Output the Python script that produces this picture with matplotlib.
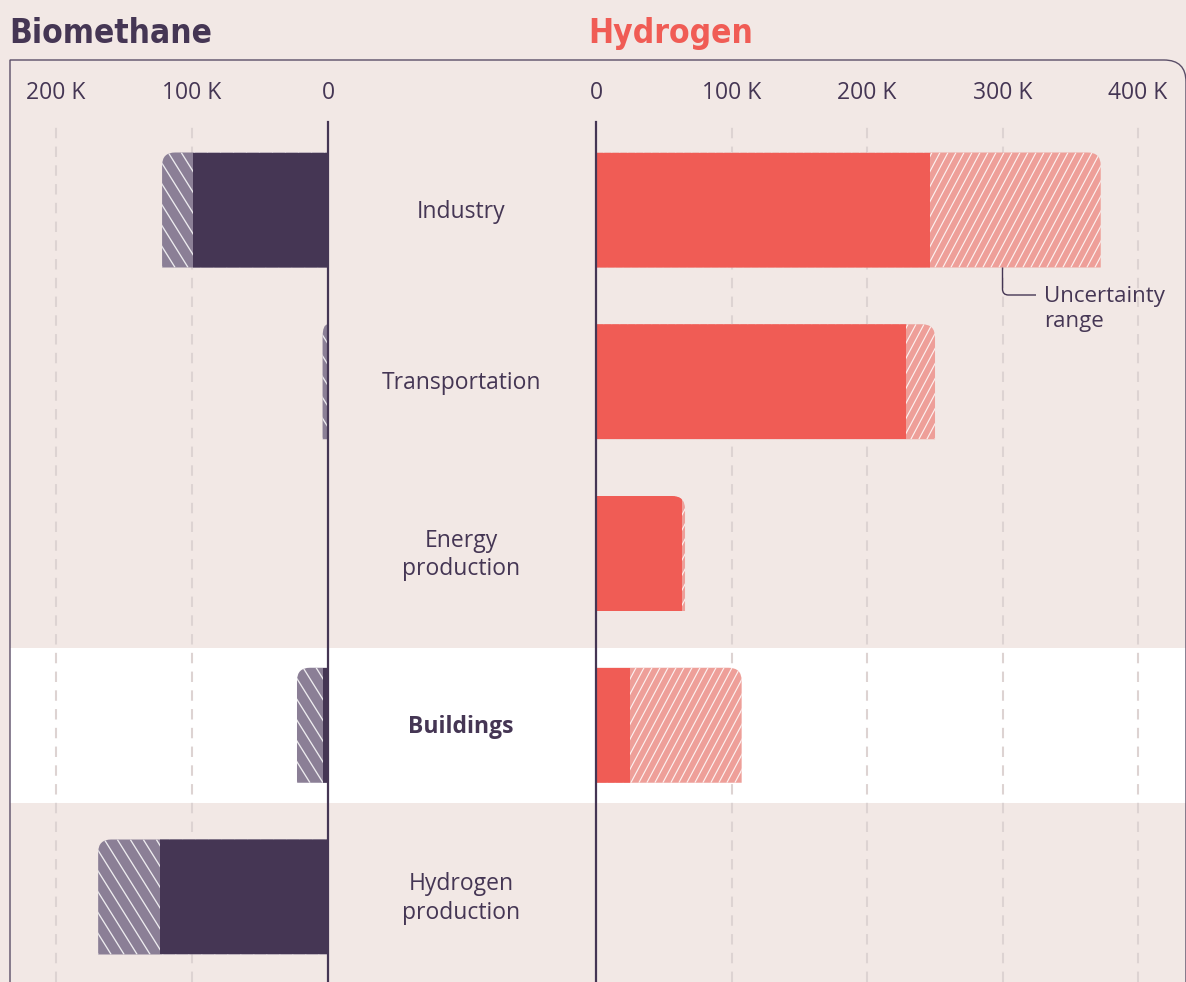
import matplotlib
matplotlib.use("Agg")
import matplotlib.pyplot as plt
import numpy as np
from matplotlib.path import Path
from matplotlib.patches import PathPatch, Rectangle
from matplotlib.collections import LineCollection
from matplotlib.transforms import IdentityTransform, Affine2D

# ---------------- data ----------------
categories = ["Industry", "Transportation", "Energy\nproduction", "Buildings", "Hydrogen\nproduction"]
bio_low = [99000, 0, 0, 3900, 123500]
bio_high = [122000, 4000, 0, 22800, 169000]
h2_low = [246500, 228800, 63200, 25100, 0]
h2_high = [372500, 250200, 65700, 107500, 0]
bio_ticks = [0, 100000, 200000]
bio_tick_labels = ["0", "100 K", "200 K"]
h2_ticks = [0, 100000, 200000, 300000, 400000]
h2_tick_labels = ["0", "100 K", "200 K", "300 K", "400 K"]
highlight = "Buildings"
title_left = "Biomethane"
title_right = "Hydrogen"
note_text = "Uncertainty\nrange"

# ---------------- style ----------------
BG = "#f2e8e5"
DARK = "#453654"
DARK_LIGHT = "#8b7f96"
RED = "#f05c55"
RED_LIGHT = "#ee9f99"
GRID = "#ddd3d2"
FRAME = "#5a4e68"
TXT_FONT = ["Open Sans", "DejaVu Sans"]
TITLE_FONT = ["DejaVu Sans"]

W, H = 1186, 982
fig = plt.figure(figsize=(W / 100, H / 100), dpi=100)
fig.patch.set_facecolor(BG)

def fx(px):
    return px / W

AX_TOP = 122
ROW0 = 210.0
ROWSTEP = 171.75
ylim = (4 + (H - (ROW0 + 4 * ROWSTEP)) / ROWSTEP, -(ROW0 - AX_TOP) / ROWSTEP)
BAR_H = 115 / ROWSTEP
n = len(categories)
ypos = np.arange(n)

# middle / background axes
mid = fig.add_axes([fx(10), 0, 1 - fx(10), (H - AX_TOP) / H])
mid.set_ylim(*ylim)
mid.set_xlim(0, 1)
mid.axis("off")
mid.patch.set_alpha(0)
hi = categories.index(highlight)
mid.axhspan(hi - 77.5 / ROWSTEP, hi + 77.5 / ROWSTEP, color="white", zorder=0, lw=0)
for i, c in enumerate(categories):
    mid.text((461 - 10) / (W - 10), i + 0.01, c, ha="center", va="center",
             fontsize=16.5, color=DARK, family=TXT_FONT,
             fontweight="bold" if c == highlight else "normal", linespacing=1.25)

axL = fig.add_axes([fx(10), 0, 318 / W, (H - AX_TOP) / H])
axR = fig.add_axes([fx(596), 0, 590 / W, (H - AX_TOP) / H])
axL.set_xlim(318 / 136 * 1e5, 0)
axR.set_xlim(0, 590 / 135.5 * 1e5)

for ax, ticks, labels in [(axL, bio_ticks, bio_tick_labels), (axR, h2_ticks, h2_tick_labels)]:
    ax.set_ylim(*ylim)
    ax.patch.set_alpha(0)
    for s in ax.spines.values():
        s.set_visible(False)
    ax.set_yticks([])
    ax.xaxis.tick_top()
    ax.set_xticks(ticks)
    ax.set_xticklabels(labels, family=TXT_FONT, fontsize=16.5, color=DARK)
    ax.tick_params(axis="x", length=0, pad=12.5)
    for t in ticks[1:]:
        ax.axvline(t, color=GRID, lw=1.5, ls=(0, (5, 4)), zorder=1)
    ax.axvline(0, color=DARK, lw=1.6, zorder=6, clip_on=False)

fig.canvas.draw()

def rounded_path(x1, yc, h, rx, ry):
    ytop = yc - h / 2
    ybot = yc + h / 2
    rx = min(rx, abs(x1))
    verts = [(0, ybot), (x1, ybot), (x1, ytop + ry), (x1, ytop), (x1 - rx, ytop), (0, ytop), (0, ybot)]
    codes = [Path.MOVETO, Path.LINETO, Path.LINETO, Path.CURVE3, Path.CURVE3, Path.LINETO, Path.CLOSEPOLY]
    return Path(verts, codes)

def draw_bars(ax, lows, highs, solid, light, px_per_unit, direction, spacing, angle, lw):
    rx = 13 / px_per_unit
    ry = 13 / ROWSTEP
    cot = 1 / np.tan(np.radians(angle))
    for y, lo, hi_ in zip(ypos, lows, highs):
        if hi_ <= 0:
            continue
        full = PathPatch(rounded_path(hi_, y, BAR_H, rx, ry), fc=light, ec="none", zorder=2)
        ax.add_patch(full)
        p0 = ax.transData.transform((0, y - BAR_H / 2))
        p1 = ax.transData.transform((hi_, y + BAR_H / 2))
        xmin, xmax = sorted([p0[0], p1[0]])
        ymin, ymax = sorted([p0[1], p1[1]])
        hh = ymax - ymin
        segs = []
        for x in np.arange(xmin - hh * cot - spacing, xmax + spacing, spacing):
            if direction == "/":
                segs.append([(x, ymin), (x + hh * cot, ymax)])
            else:
                segs.append([(x, ymax), (x + hh * cot, ymin)])
        lc = LineCollection(segs, colors=(1, 1, 1, 0.85), linewidths=lw,
                            transform=IdentityTransform(), zorder=3)
        lc.set_clip_path(full)
        ax.add_collection(lc, autolim=False)
        if lo > 0:
            r = Rectangle((0, y - BAR_H / 2), lo, BAR_H, fc=solid, ec="none", zorder=4)
            ax.add_patch(r)
            r.set_clip_path(full)

draw_bars(axL, bio_low, bio_high, DARK, DARK_LIGHT, 136 / 1e5, "\\", 13, 58, 0.95)
draw_bars(axR, h2_low, h2_high, RED, RED_LIGHT, 135.5 / 1e5, "/", 8, 62, 0.85)

# annotation for uncertainty range
xa = 300000
y_b = 0 + BAR_H / 2
y_c = (295 - ROW0) / ROWSTEP
x_e = (1036 - 596) / 135.5 * 1e5
rr_x = 6 / 135.5 * 1e5
rr_y = 6 / ROWSTEP
ann = Path([(xa, y_b), (xa, y_c - rr_y), (xa, y_c), (xa + rr_x, y_c), (x_e, y_c)],
           [Path.MOVETO, Path.LINETO, Path.CURVE3, Path.CURVE3, Path.LINETO])
axR.add_patch(PathPatch(ann, fc="none", ec=DARK, lw=1.0, zorder=5))
axR.text((1044 - 596) / 135.5 * 1e5, (309 - ROW0) / ROWSTEP, note_text, ha="left", va="center",
         fontsize=16, color=DARK, family=TXT_FONT, linespacing=1.25,
         transform=axR.transData)

# frame
pxT = Affine2D().scale(1 / W, -1 / H).translate(0, 1) + fig.transFigure
fr = Path([(10, H + 10), (10, 60), (1164, 60), (1186, 60), (1186, 82), (1186, H + 10)],
          [Path.MOVETO, Path.LINETO, Path.LINETO, Path.CURVE3, Path.CURVE3, Path.LINETO])
fig.patches.append(PathPatch(fr, fc="none", ec=FRAME, lw=1.0, transform=pxT, zorder=10))

# titles
fig.text(fx(9), 1 - 43 / H, title_left, ha="left", va="baseline", fontsize=24,
         fontweight="bold", fontstretch="condensed", color=DARK, family=TITLE_FONT)
fig.text(fx(588), 1 - 43 / H, title_right, ha="left", va="baseline", fontsize=24,
         fontweight="bold", fontstretch="condensed", color=RED, family=TITLE_FONT)

fig.savefig("out.png", dpi=100, facecolor=BG)
